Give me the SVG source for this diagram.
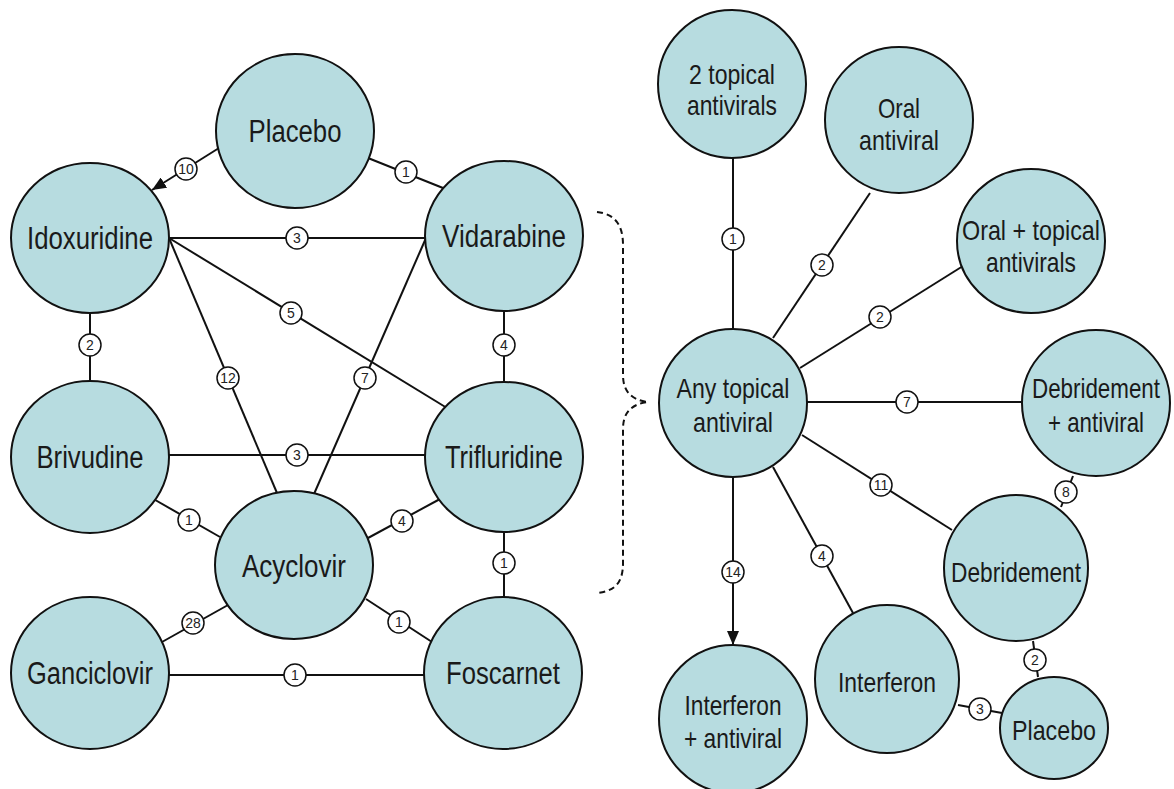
<svg xmlns="http://www.w3.org/2000/svg" width="1174" height="789" viewBox="0 0 1174 789">
<style>
.n{fill:#b7dce0;stroke:#111;stroke-width:2}
.t{font-family:"Liberation Sans Narrow","Liberation Sans",Arial,sans-serif;fill:#1a1a1a;text-anchor:middle}
.L{font-size:31px}
.R{font-size:28px}
.e{stroke:#111;stroke-width:2;fill:none}
.lc{fill:#fff;stroke:#111;stroke-width:1.5}
.lt{font-family:"Liberation Sans Narrow","Liberation Sans",Arial,sans-serif;font-size:14px;fill:#222;text-anchor:middle}
.br{fill:none;stroke:#111;stroke-width:2;stroke-dasharray:6,4}
</style>
<defs>
<marker id="arr" markerUnits="userSpaceOnUse" markerWidth="14" markerHeight="12" refX="14" refY="6" orient="auto">
<path d="M0,0 L14,6 L0,12 z" fill="#111"/>
</marker>
</defs>
<rect width="1174" height="789" fill="#fff"/>

<g id="connectors">
<line class="e" x1="219" y1="148" x2="152" y2="190" marker-end="url(#arr)"/>
<line class="e" x1="368" y1="158" x2="443" y2="188"/>
<line class="e" x1="169" y1="238" x2="426" y2="238"/>
<line class="e" x1="169" y1="238" x2="447" y2="408"/>
<line class="e" x1="169" y1="238" x2="277" y2="493"/>
<line class="e" x1="426" y1="238" x2="314" y2="494"/>
<line class="e" x1="90" y1="312" x2="90" y2="383"/>
<line class="e" x1="504" y1="310" x2="504" y2="383"/>
<line class="e" x1="169" y1="455" x2="426" y2="455"/>
<line class="e" x1="150" y1="497" x2="220" y2="537"/>
<line class="e" x1="368" y1="538" x2="440" y2="499"/>
<line class="e" x1="504" y1="531" x2="504" y2="598"/>
<line class="e" x1="228" y1="605" x2="162" y2="642"/>
<line class="e" x1="366" y1="599" x2="432" y2="642"/>
<line class="e" x1="168" y1="675" x2="424" y2="675"/>
<line class="e" x1="733" y1="158" x2="733" y2="329"/>
<line class="e" x1="870" y1="193" x2="773" y2="338"/>
<line class="e" x1="800" y1="368" x2="963" y2="266"/>
<line class="e" x1="807" y1="402" x2="1022" y2="402"/>
<line class="e" x1="802" y1="435" x2="952" y2="530"/>
<line class="e" x1="773" y1="467" x2="853" y2="613"/>
<line class="e" x1="733" y1="477" x2="733" y2="645" marker-end="url(#arr)"/>
<line class="e" x1="1073" y1="476" x2="1061" y2="507"/>
<line class="e" x1="1033" y1="641" x2="1038" y2="677"/>
<line class="e" x1="958" y1="705" x2="1002" y2="713"/>

<g><circle class="lc" cx="186" cy="169" r="11"/><text class="lt" x="186" y="174">10</text></g>
<g><circle class="lc" cx="406" cy="172" r="11"/><text class="lt" x="406" y="177">1</text></g>
<g><circle class="lc" cx="297" cy="238" r="11"/><text class="lt" x="297" y="243">3</text></g>
<g><circle class="lc" cx="291" cy="313" r="11"/><text class="lt" x="291" y="318">5</text></g>
<g><circle class="lc" cx="228" cy="378" r="11"/><text class="lt" x="228" y="383">12</text></g>
<g><circle class="lc" cx="365" cy="378" r="11"/><text class="lt" x="365" y="383">7</text></g>
<g><circle class="lc" cx="90" cy="345" r="11"/><text class="lt" x="90" y="350">2</text></g>
<g><circle class="lc" cx="504" cy="345" r="11"/><text class="lt" x="504" y="350">4</text></g>
<g><circle class="lc" cx="297" cy="455" r="11"/><text class="lt" x="297" y="460">3</text></g>
<g><circle class="lc" cx="189" cy="520" r="11"/><text class="lt" x="189" y="525">1</text></g>
<g><circle class="lc" cx="402" cy="521" r="11"/><text class="lt" x="402" y="526">4</text></g>
<g><circle class="lc" cx="504" cy="563" r="11"/><text class="lt" x="504" y="568">1</text></g>
<g><circle class="lc" cx="193" cy="623" r="11"/><text class="lt" x="193" y="628">28</text></g>
<g><circle class="lc" cx="399" cy="622" r="11"/><text class="lt" x="399" y="627">1</text></g>
<g><circle class="lc" cx="295" cy="675" r="11"/><text class="lt" x="295" y="680">1</text></g>

<g><circle class="lc" cx="733" cy="239" r="11"/><text class="lt" x="733" y="244">1</text></g>
<g><circle class="lc" cx="822" cy="265" r="11"/><text class="lt" x="822" y="270">2</text></g>
<g><circle class="lc" cx="880" cy="317" r="11"/><text class="lt" x="880" y="322">2</text></g>
<g><circle class="lc" cx="907" cy="402" r="11"/><text class="lt" x="907" y="407">7</text></g>
<g><circle class="lc" cx="881" cy="485" r="11"/><text class="lt" x="881" y="490">11</text></g>
<g><circle class="lc" cx="822" cy="556" r="11"/><text class="lt" x="822" y="561">4</text></g>
<g><circle class="lc" cx="733" cy="572" r="11"/><text class="lt" x="733" y="577">14</text></g>
<g><circle class="lc" cx="1066" cy="492" r="11"/><text class="lt" x="1066" y="497">8</text></g>
<g><circle class="lc" cx="1035" cy="660" r="11"/><text class="lt" x="1035" y="665">2</text></g>
<g><circle class="lc" cx="980" cy="709" r="11"/><text class="lt" x="980" y="714">3</text></g>
</g>

<g id="brace">
<path class="br" d="M597,212 C615,214 623,225 623,245 L623,375 C623,392 632,400 648,402 C632,404 623,412 623,429 L623,563 C623,583 615,591 597,593"/>
</g>

<g id="placebo-left"><ellipse class="n" cx="295" cy="131" rx="79" ry="77"/><text class="t L" x="295" y="142" textLength="93" lengthAdjust="spacingAndGlyphs">Placebo</text></g>
<g id="idoxuridine"><ellipse class="n" cx="90" cy="238" rx="79" ry="75"/><text class="t L" x="90" y="249" textLength="126" lengthAdjust="spacingAndGlyphs">Idoxuridine</text></g>
<g id="vidarabine"><ellipse class="n" cx="504" cy="236" rx="79" ry="75"/><text class="t L" x="504" y="247" textLength="124" lengthAdjust="spacingAndGlyphs">Vidarabine</text></g>
<g id="brivudine"><ellipse class="n" cx="90" cy="457" rx="79" ry="76"/><text class="t L" x="90" y="468" textLength="107" lengthAdjust="spacingAndGlyphs">Brivudine</text></g>
<g id="trifluridine"><ellipse class="n" cx="504" cy="457" rx="79" ry="75"/><text class="t L" x="504" y="468" textLength="118" lengthAdjust="spacingAndGlyphs">Trifluridine</text></g>
<g id="acyclovir"><ellipse class="n" cx="294" cy="565" rx="79" ry="74"/><text class="t L" x="294" y="577" textLength="104" lengthAdjust="spacingAndGlyphs">Acyclovir</text></g>
<g id="ganciclovir"><ellipse class="n" cx="90" cy="673" rx="79" ry="76"/><text class="t L" x="90" y="684" textLength="126" lengthAdjust="spacingAndGlyphs">Ganciclovir</text></g>
<g id="foscarnet"><ellipse class="n" cx="503" cy="673" rx="79" ry="76"/><text class="t L" x="503" y="684" textLength="114" lengthAdjust="spacingAndGlyphs">Foscarnet</text></g>

<g id="two-topical"><ellipse class="n" cx="732" cy="84" rx="74" ry="74"/><text class="t R" x="732" y="84" textLength="86" lengthAdjust="spacingAndGlyphs">2 topical</text><text class="t R" x="732" y="115" textLength="90" lengthAdjust="spacingAndGlyphs">antivirals</text></g>
<g id="oral"><ellipse class="n" cx="899" cy="120" rx="74" ry="73"/><text class="t R" x="899" y="118" textLength="42" lengthAdjust="spacingAndGlyphs">Oral</text><text class="t R" x="899" y="150" textLength="80" lengthAdjust="spacingAndGlyphs">antiviral</text></g>
<g id="oral-topical"><ellipse class="n" cx="1031" cy="241" rx="74" ry="72"/><text class="t R" x="1031" y="240" textLength="138" lengthAdjust="spacingAndGlyphs">Oral + topical</text><text class="t R" x="1031" y="272" textLength="90" lengthAdjust="spacingAndGlyphs">antivirals</text></g>
<g id="any-topical"><ellipse class="n" cx="733" cy="403" rx="74" ry="74"/><text class="t R" x="733" y="398" textLength="113" lengthAdjust="spacingAndGlyphs">Any topical</text><text class="t R" x="733" y="432" textLength="80" lengthAdjust="spacingAndGlyphs">antiviral</text></g>
<g id="debridement-antiviral"><ellipse class="n" cx="1096" cy="403" rx="74" ry="73"/><text class="t R" x="1096" y="398" textLength="128" lengthAdjust="spacingAndGlyphs">Debridement</text><text class="t R" x="1096" y="432" textLength="96" lengthAdjust="spacingAndGlyphs">+ antiviral</text></g>
<g id="debridement"><ellipse class="n" cx="1016" cy="568" rx="72" ry="73"/><text class="t R" x="1016" y="582" textLength="130" lengthAdjust="spacingAndGlyphs">Debridement</text></g>
<g id="interferon"><ellipse class="n" cx="887" cy="679" rx="72" ry="74"/><text class="t R" x="887" y="692" textLength="98" lengthAdjust="spacingAndGlyphs">Interferon</text></g>
<g id="interferon-antiviral"><ellipse class="n" cx="733" cy="719" rx="74" ry="74"/><text class="t R" x="733" y="715" textLength="97" lengthAdjust="spacingAndGlyphs">Interferon</text><text class="t R" x="733" y="748" textLength="98" lengthAdjust="spacingAndGlyphs">+ antiviral</text></g>
<g id="placebo-right"><ellipse class="n" cx="1054" cy="728" rx="54" ry="51"/><text class="t R" x="1054" y="740" textLength="84" lengthAdjust="spacingAndGlyphs">Placebo</text></g>
</svg>
